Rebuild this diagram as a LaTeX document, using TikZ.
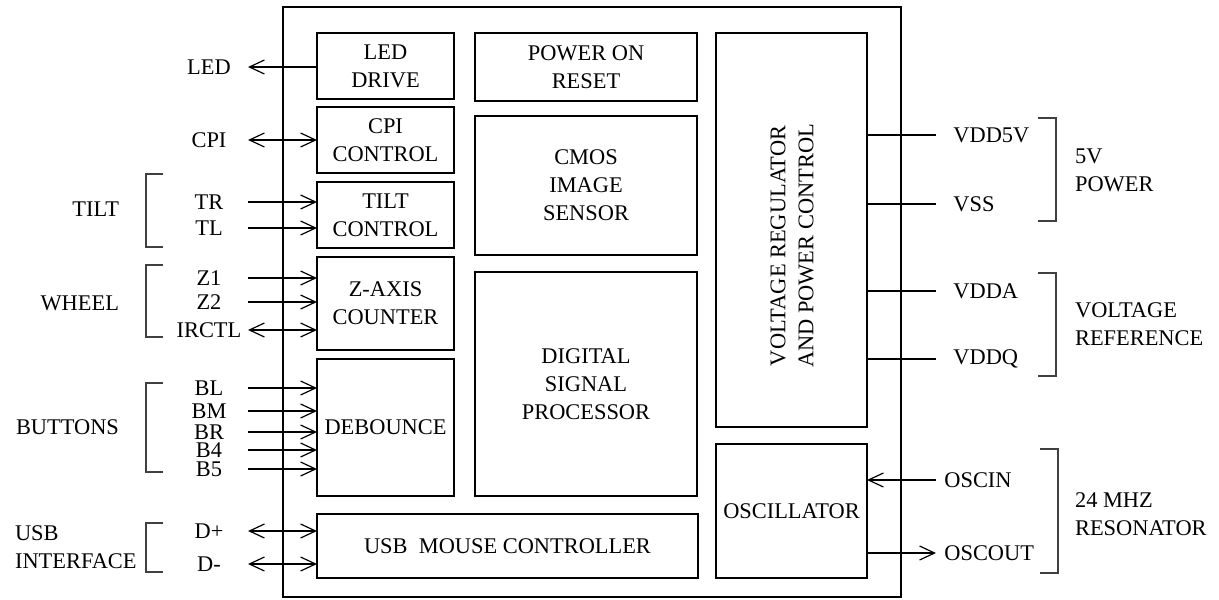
\documentclass[tikz,border=0pt]{standalone}
\usepackage{fontspec}
\setmainfont{Liberation Serif}
\usetikzlibrary{arrows.meta, positioning}

\tikzset{
  blk/.style={draw, line width=0.6pt, inner sep=0pt, outer sep=0pt, align=center},
  pin/.style={inner sep=0pt},
  wire/.style={line width=0.6pt},
  brk/.style={line width=0.7pt, draw=black!75},
}

\begin{document}
\begin{tikzpicture}[x=0.5pt, y=-0.5pt, >={Straight Barb[length=7.5pt,width=7pt]},
  font=\fontsize{11.2pt}{14pt}\selectfont]
  \useasboundingbox (0,0) rectangle (1219,599);
  % chip outline
  \draw[wire] (283,7) rectangle (901,597);

  % left column
  \node[blk, minimum width=68.5pt, minimum height=33pt] (led) at (385.5,66) {LED\\DRIVE};
  \node[blk, minimum width=68.5pt, minimum height=33pt] (cpi) at (385.5,140) {CPI\\CONTROL};
  \node[blk, minimum width=68.5pt, minimum height=33pt] (tilt) at (385.5,215) {TILT\\CONTROL};
  \node[blk, minimum width=68.5pt, minimum height=46.5pt] (zax) at (385.5,303.5) {Z-AXIS\\COUNTER};
  \node[blk, minimum width=68.5pt, minimum height=68.5pt] (deb) at (385.5,427.5) {DEBOUNCE};
  \node[blk, minimum width=190.5pt, minimum height=32pt] (usb) at (507.5,546) {USB\ \ MOUSE CONTROLLER};

  % middle column
  \node[blk, minimum width=111pt, minimum height=34pt] (por) at (586,67) {POWER ON\\RESET};
  \node[blk, minimum width=111pt, minimum height=69.5pt] (cmos) at (586,185.5) {CMOS\\IMAGE\\SENSOR};
  \node[blk, minimum width=111pt, minimum height=112pt] (dsp) at (586,384) {DIGITAL\\SIGNAL\\PROCESSOR};

  % right column
  \node[blk, minimum width=75.5pt, minimum height=197pt] (vreg) at (791.5,230) {};
  \node[rotate=90, align=center] at (792,246) {VOLTAGE REGULATOR\\AND POWER CONTROL};
  \node[blk, minimum width=75.5pt, minimum height=67pt] (osc) at (791.5,511) {OSCILLATOR};

  % left pins
  \foreach \i/\t/\y/\d/\b in {1/LED/67/<-/led, 2/CPI/140/<->/cpi, 3/TR/202/->/tilt, 4/TL/228/->/tilt,
      5/Z1/278/->/zax, 6/Z2/302/->/zax, 7/IRCTL/330/<->/zax,
      8/BL/388/->/deb, 9/BM/411/->/deb, 10/BR/432/->/deb, 11/B4/450/->/deb, 12/B5/469/->/deb,
      13/D+/531/<->/usb, 14/D-/564/<->/usb} {
    \node[pin] (lp\i) at (209,\y) {\t};
    \coordinate (le\i) at (248,\y);
    \draw[wire, \d] (le\i) -- (\b.west |- le\i);
  }

  % right pins
  \foreach \i/\t/\y in {1/VDD5V/135, 2/VSS/204, 3/VDDA/291, 4/VDDQ/359} {
    \coordinate (re\i) at (936,\y);
    \node[pin, anchor=west] (rp\i) at (953,\y) {\t};
    \draw[wire] (vreg.east |- re\i) -- (re\i);
  }
  \coordinate (re5) at (936,480);
  \node[pin, anchor=west] (rp5) at (944,480) {OSCIN};
  \draw[wire, ->] (re5) -- (osc.east |- re5);
  \coordinate (re6) at (936,553);
  \node[pin, anchor=west] (rp6) at (944,553) {OSCOUT};
  \draw[wire, ->] (osc.east |- re6) -- (re6);

  % left groups
  \draw[brk] (163,174) -- (146,174) -- (146,247) -- (163,247);
  \draw[brk] (163,265) -- (146,265) -- (146,337) -- (163,337);
  \draw[brk] (163,383) -- (146,383) -- (146,472) -- (163,472);
  \draw[brk] (163,523) -- (146,523) -- (146,572) -- (163,572);
  \node[anchor=east] (gtilt) at (126,209) {TILT};
  \node[anchor=east] (gwheel) at (126,303) {WHEEL};
  \node[anchor=east] (gbtn) at (126,427) {BUTTONS};
  \node[anchor=west, align=left] (gusb) at (8,547) {USB\\INTERFACE};

  % right groups
  \draw[brk] (1038,118) -- (1056,118) -- (1056,221) -- (1038,221);
  \draw[brk] (1038,273) -- (1056,273) -- (1056,376) -- (1038,376);
  \draw[brk] (1040,449) -- (1058,449) -- (1058,573) -- (1040,573);
  \node[anchor=west, align=left] (gpow) at (1068,170) {5V\\POWER};
  \node[anchor=west, align=left] (gref) at (1068,324) {VOLTAGE\\REFERENCE};
  \node[anchor=west, align=left] (gres) at (1068,514) {24 MHZ\\RESONATOR};
\end{tikzpicture}
\end{document}
